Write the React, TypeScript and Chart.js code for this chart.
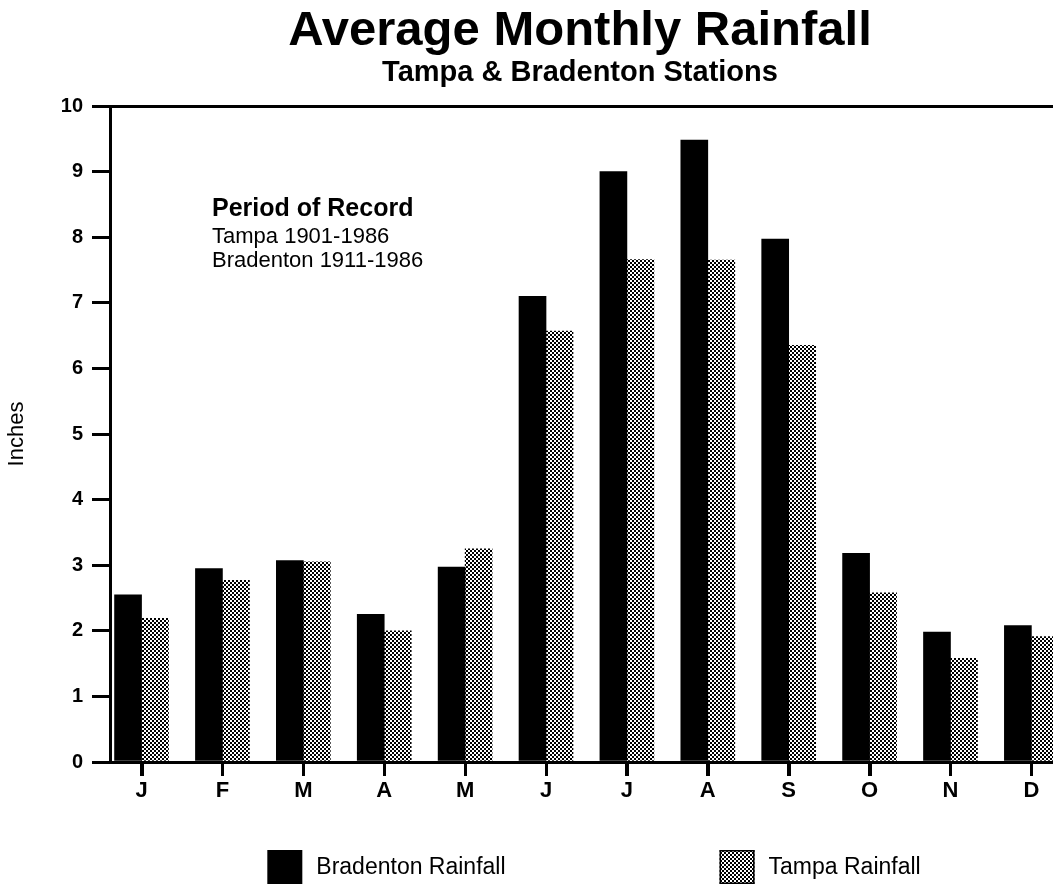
import React, { useEffect, useRef } from 'react';
import { Chart, registerables } from 'chart.js';

Chart.register(...registerables);

// ---- data ----
const MONTHS = ['J', 'F', 'M', 'A', 'M', 'J', 'J', 'A', 'S', 'O', 'N', 'D'];
const BRADENTON = [2.55, 2.95, 3.07, 2.25, 2.97, 7.1, 9.0, 9.48, 7.97, 3.18, 1.98, 2.08];
const TAMPA = [2.19, 2.77, 3.05, 2.0, 3.25, 6.57, 7.66, 7.65, 6.35, 2.58, 1.58, 1.91];
const Y_MIN = 0;
const Y_MAX = 10;
const Y_STEP = 1;
const SERIES_LABELS = ['Bradenton Rainfall', 'Tampa Rainfall'];
const TITLE = 'Average Monthly Rainfall';
const SUBTITLE = 'Tampa & Bradenton Stations';
const Y_TITLE = 'Inches';
const NOTE_TITLE = 'Period of Record';
const NOTE_LINES = ['Tampa 1901-1986', 'Bradenton 1911-1986'];

// ---- layout / style ----
const FONT = "'Liberation Sans', Arial, Helvetica, sans-serif";
const CANVAS_W = 1160;
const CANVAS_H = 884;
const X_MIN = -0.39;
const X_MAX = 12.59;
const X_TICK_LEN = 14;

function makeDotPattern(): CanvasPattern | string {
  const tile = document.createElement('canvas');
  tile.width = 4;
  tile.height = 4;
  const c = tile.getContext('2d');
  if (!c) return '#888';
  c.fillStyle = '#ffffff';
  c.fillRect(0, 0, 4, 4);
  c.fillStyle = '#000000';
  c.fillRect(0, 0, 2, 2);
  c.fillRect(2, 2, 2, 2);
  const p = document.createElement('canvas').getContext('2d')!.createPattern(tile, 'repeat');
  return p || '#888';
}

// makes sure the category tick marks below the x axis are drawn
const xTickPlugin = {
  id: 'xTickMarks',
  afterDraw(chart: any) {
    const { ctx, scales } = chart;
    const xs = scales.x;
    ctx.save();
    ctx.strokeStyle = '#000';
    ctx.lineWidth = 3;
    xs.ticks.forEach((_: any, i: number) => {
      const px = Math.round(xs.getPixelForTick(i)) + 0.5;
      ctx.beginPath();
      ctx.moveTo(px, xs.top);
      ctx.lineTo(px, xs.top + X_TICK_LEN);
      ctx.stroke();
    });
    ctx.restore();
  },
};

const notePlugin = {
  id: 'noteText',
  afterDraw(chart: any) {
    const { ctx, chartArea } = chart;
    ctx.save();
    ctx.fillStyle = '#000';
    ctx.textAlign = 'left';
    ctx.textBaseline = 'alphabetic';
    const x = chartArea.left + 102;
    ctx.font = `bold 25px ${FONT}`;
    ctx.fillText(NOTE_TITLE, x, chartArea.top + 110);
    ctx.font = `22px ${FONT}`;
    NOTE_LINES.forEach((line, i) => {
      ctx.fillText(line, x, chartArea.top + 137 + i * 24);
    });
    ctx.restore();
  },
};

const legendPlugin = {
  id: 'bottomLegend',
  afterDraw(chart: any) {
    const { ctx, chartArea } = chart;
    const BOX_W = 35;
    const BOX_H = 34;
    const TEXT_GAP = 14;
    const ITEM_GAP = 214;
    const SHIFT = 14;
    ctx.save();
    ctx.font = `23px ${FONT}`;
    const items = chart.data.datasets.map((ds: any) => ({
      label: ds.label as string,
      fill: ds.backgroundColor,
      outline: ds.legendOutline as boolean,
    }));
    const widths = items.map((it: any) => BOX_W + TEXT_GAP + ctx.measureText(it.label).width);
    const total = widths.reduce((a: number, b: number) => a + b, 0) + ITEM_GAP * (items.length - 1);
    let x = chart.width / 2 + SHIFT - total / 2;
    const top = chartArea.bottom + 88;
    items.forEach((it: any, i: number) => {
      ctx.fillStyle = it.fill;
      ctx.fillRect(x, top, BOX_W, BOX_H);
      if (it.outline) {
        ctx.strokeStyle = '#000';
        ctx.lineWidth = 1.5;
        ctx.strokeRect(x + 0.75, top + 0.75, BOX_W - 1.5, BOX_H - 1.5);
      }
      ctx.fillStyle = '#000';
      ctx.textAlign = 'left';
      ctx.textBaseline = 'alphabetic';
      ctx.fillText(it.label, x + BOX_W + TEXT_GAP, top + 24);
      x += widths[i] + ITEM_GAP;
    });
    ctx.restore();
  },
};

export default function App() {
  const canvasRef = useRef<HTMLCanvasElement | null>(null);

  useEffect(() => {
    if (!canvasRef.current) return;
    Chart.defaults.font.family = FONT;
    Chart.defaults.color = '#000';
    const pattern = makeDotPattern();

    const chart = new Chart(canvasRef.current, {
      type: 'bar',
      data: {
        datasets: [
          {
            label: SERIES_LABELS[0],
            data: BRADENTON.map((v, i) => ({ x: i, y: v })),
            backgroundColor: '#000000',
            borderWidth: 0,
            barThickness: 27,
            legendOutline: false,
          } as any,
          {
            label: SERIES_LABELS[1],
            data: TAMPA.map((v, i) => ({ x: i, y: v })),
            backgroundColor: pattern,
            borderWidth: 0,
            barThickness: 27,
            legendOutline: true,
          } as any,
        ],
      },
      options: {
        animation: false,
        responsive: false,
        devicePixelRatio: 1,
        layout: { padding: { top: 0, left: 0, right: 0, bottom: 77.6 } },
        plugins: {
          legend: { display: false },
          tooltip: { enabled: false },
          title: {
            display: true,
            text: TITLE,
            color: '#000',
            font: { size: 49, weight: 'bold', lineHeight: 1 },
            padding: { top: 7, bottom: 2 },
          },
          subtitle: {
            display: true,
            text: SUBTITLE,
            color: '#000',
            font: { size: 29, weight: 'bold', lineHeight: 1 },
            padding: { top: 0, bottom: 19 },
          },
        },
        scales: {
          x: {
            type: 'linear',
            offset: false,
            min: X_MIN,
            max: X_MAX,
            afterBuildTicks: (axis: any) => {
              axis.ticks = MONTHS.map((_, i) => ({ value: i }));
            },
            ticks: {
              autoSkip: false,
              maxRotation: 0,
              padding: 2,
              color: '#000',
              font: { size: 22, weight: 'bold' },
              callback: (v: any) => MONTHS[v] ?? '',
            },
            grid: {
              offset: false,
              drawOnChartArea: false,
              drawTicks: true,
              tickLength: X_TICK_LEN,
              tickWidth: 3,
              tickColor: '#000',
            },
            border: { display: true, color: '#000', width: 3 },
          },
          y: {
            type: 'linear',
            min: Y_MIN,
            max: Y_MAX,
            afterFit: (scale: any) => {
              scale.width = 110;
            },
            ticks: {
              stepSize: Y_STEP,
              padding: 9,
              color: '#000',
              font: { size: 20, weight: 'bold' },
            },
            grid: {
              color: (c: any) => (c.tick && c.tick.value === Y_MAX ? '#000' : 'rgba(0,0,0,0)'),
              lineWidth: 3,
              tickLength: 18,
              tickWidth: 3,
              tickColor: '#000',
            },
            border: { display: true, color: '#000', width: 3 },
            title: {
              display: true,
              text: Y_TITLE,
              color: '#000',
              font: { size: 22, weight: 'normal' },
              padding: { top: 4, bottom: 0 },
            },
          },
        },
      } as any,
      plugins: [xTickPlugin, notePlugin, legendPlugin],
    });

    return () => chart.destroy();
  }, []);

  return (
    <div
      style={{
        position: 'absolute',
        left: 0,
        top: 0,
        width: 1053,
        height: 884,
        overflow: 'hidden',
        background: '#fff',
      }}
    >
      <canvas ref={canvasRef} width={CANVAS_W} height={CANVAS_H} style={{ display: 'block' }} />
    </div>
  );
}
